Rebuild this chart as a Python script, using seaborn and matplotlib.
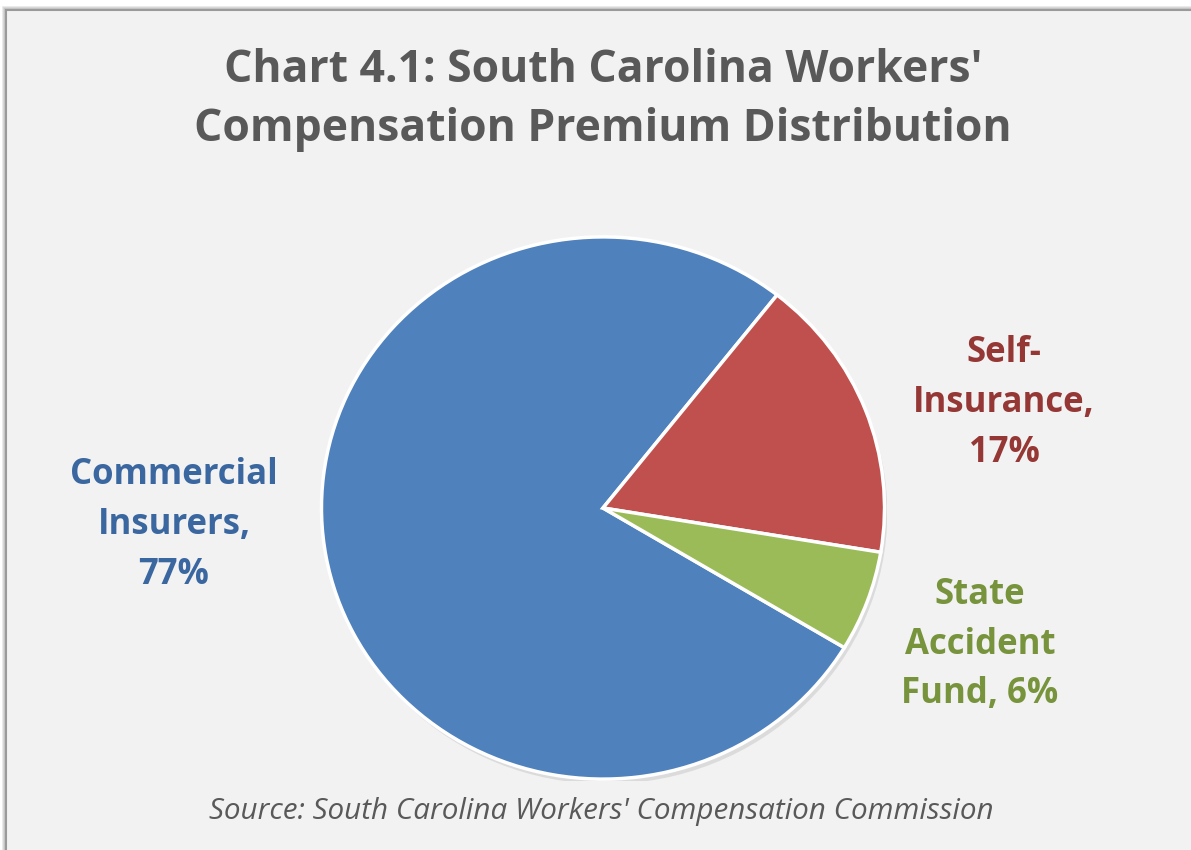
import matplotlib.pyplot as plt
import matplotlib.patches as mpatches
import seaborn as sns

# Data
categories = ["Commercial\nInsurers,", "Self-\nInsurance,", "State\nAccident\nFund,"]
shares = [77, 17, 6]
slice_colors = ["#4F81BD", "#C0504D", "#9BBB59"]
label_colors = ["#3A67A0", "#953735", "#77933C"]

title = "Chart 4.1: South Carolina Workers'\nCompensation Premium Distribution"
source = "Source: South Carolina Workers' Compensation Commission"

sns.set_theme(style="white")
plt.rcParams['font.family'] = ['Open Sans', 'DejaVu Sans']

W, H = 1191, 850
fig = plt.figure(figsize=(W / 100, H / 100), dpi=100)
fig.patch.set_facecolor("white")

# chart frame with a soft shadow (cut off at right/bottom like the screenshot)
for i, c in enumerate(["#e6e6e6", "#d4d4d4", "#c2c2c2"]):
    fig.patches.append(mpatches.Rectangle(((3 + i) / W, 0), 1.2, (H - 7 - i) / H,
                                          transform=fig.transFigure,
                                          facecolor="none", edgecolor=c, lw=1.2, zorder=-2))
fig.patches.append(mpatches.Rectangle((6 / W, -0.1), 1.2, (H - 10) / H + 0.1,
                                      transform=fig.transFigure,
                                      facecolor="#F2F2F2", edgecolor="#9A9A9A", lw=1.5, zorder=-1))

# pie axes: centre (603, 508) px, the screenshot is slightly squashed vertically
cx, cy, rx, ry = 603, 508, 281.5, 271
ax = fig.add_axes([(cx - rx - 2) / W, (H - cy - ry - 2) / H, (2 * rx + 4) / W, (2 * ry + 4) / H])
ax.set_facecolor("none")
ax.set_zorder(1)

# soft shadow under the pie
ax.add_patch(mpatches.Circle((0.01, -0.018), 1.0, facecolor="#cccccc", edgecolor="none",
                             alpha=0.6, zorder=0))
wedges, _ = ax.pie(shares, colors=slice_colors, startangle=-31, counterclock=False,
                   radius=1.0, wedgeprops=dict(edgecolor="white", linewidth=2.5))
ax.set_aspect("auto")
ax.set_xlim(-1.007, 1.007)
ax.set_ylim(-1.007, 1.007)
ax.axis("off")

# data labels
label_pos = [(174, 525), (1004, 403), (980, 645)]
for cat, val, col, (x, y) in zip(categories, shares, label_colors, label_pos):
    txt = f"{cat} {val}%" if cat.startswith("State") else f"{cat}\n{val}%"
    fig.text(x / W, 1 - y / H, txt, ha="center", va="center", fontsize=25,
             fontweight="bold", color=col, linespacing=1.5, zorder=3)

fig.text(603 / W, 1 - 100 / H, title, ha="center", va="center", fontsize=32,
         fontweight="bold", color="#595959", linespacing=1.44, zorder=3)
fig.text(601 / W, 1 - 812 / H, source, ha="center", va="center", fontsize=21.3,
         style="italic", color="#595959", zorder=3)

fig.savefig("out.png", dpi=100, facecolor=fig.get_facecolor())
